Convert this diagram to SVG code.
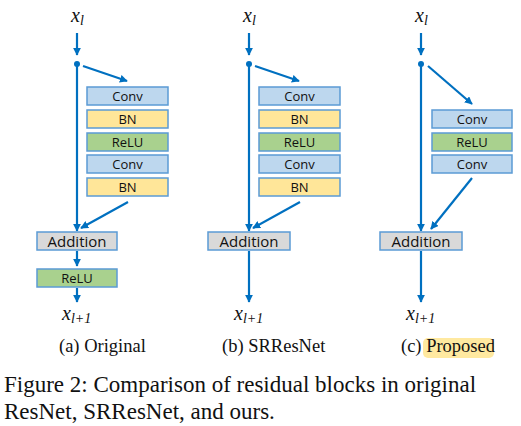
<svg xmlns="http://www.w3.org/2000/svg" width="521" height="426" viewBox="0 0 521 426">
<defs>
<marker id="ah" viewBox="0 0 10 10" refX="9" refY="5" markerWidth="3.6" markerHeight="3.6" orient="auto" markerUnits="strokeWidth">
<path d="M0,0 L10,5 L0,10 Z" fill="#0070C0"/>
</marker>
<style>
.box{stroke:#5B9BD5;stroke-width:1.5}
.conv{fill:#BDD7EE}
.bn{fill:#FFE699}
.relu{fill:#A9D18E}
.add{fill:#D9D9D9}
.lbl{font-family:"Open Sans","Noto Sans",sans-serif;font-size:13px;fill:#111;text-anchor:middle}
.albl{font-family:"Open Sans","Noto Sans",sans-serif;font-size:15px;fill:#111;text-anchor:middle}
.math{font-family:"Liberation Serif",serif;font-style:italic;fill:#111}
.cap{font-family:"Liberation Serif",serif;font-size:18.5px;fill:#111}
.fig{font-family:"Liberation Serif",serif;font-size:23px;fill:#111}
.ln{stroke:#0070C0;stroke-width:2.2;fill:none}
</style>
</defs>
<rect width="521" height="426" fill="#fff"/>

<g id="connectors">
<line class="ln" x1="77" y1="33" x2="77" y2="55" marker-end="url(#ah)"/>
<circle cx="77" cy="64" r="3" fill="#0070C0"/>
<line class="ln" x1="77" y1="64" x2="77" y2="231" marker-end="url(#ah)"/>
<line class="ln" x1="83" y1="66" x2="127" y2="81" marker-end="url(#ah)"/>
<line class="ln" x1="128" y1="202" x2="81" y2="228" marker-end="url(#ah)"/>
<line class="ln" x1="77" y1="251" x2="77" y2="266" marker-end="url(#ah)"/>
<line class="ln" x1="77" y1="288" x2="77" y2="302" marker-end="url(#ah)"/>
<line class="ln" x1="249" y1="33" x2="249" y2="55" marker-end="url(#ah)"/>
<circle cx="249" cy="64" r="3" fill="#0070C0"/>
<line class="ln" x1="249" y1="64" x2="249" y2="231" marker-end="url(#ah)"/>
<line class="ln" x1="255" y1="66" x2="299" y2="81" marker-end="url(#ah)"/>
<line class="ln" x1="300" y1="202" x2="253" y2="228" marker-end="url(#ah)"/>
<line class="ln" x1="249" y1="251" x2="249" y2="302" marker-end="url(#ah)"/>
<line class="ln" x1="421" y1="33" x2="421" y2="55" marker-end="url(#ah)"/>
<circle cx="421" cy="64" r="3" fill="#0070C0"/>
<line class="ln" x1="421" y1="64" x2="421" y2="231" marker-end="url(#ah)"/>
<line class="ln" x1="428" y1="66" x2="472" y2="104" marker-end="url(#ah)"/>
<line class="ln" x1="472" y1="178" x2="431" y2="229" marker-end="url(#ah)"/>
<line class="ln" x1="421" y1="251" x2="421" y2="302" marker-end="url(#ah)"/>
</g>

<g id="a-conv1"><rect class="box conv" x="87" y="87" width="81" height="18"/><text class="lbl" x="127.5" y="101">Conv</text></g>
<g id="a-bn1"><rect class="box bn" x="87" y="110" width="81" height="18"/><text class="lbl" x="127.5" y="124">BN</text></g>
<g id="a-relu1"><rect class="box relu" x="87" y="133" width="81" height="18"/><text class="lbl" x="127.5" y="147">ReLU</text></g>
<g id="a-conv2"><rect class="box conv" x="87" y="155" width="81" height="18"/><text class="lbl" x="127.5" y="169">Conv</text></g>
<g id="a-bn2"><rect class="box bn" x="87" y="178" width="81" height="18"/><text class="lbl" x="127.5" y="192">BN</text></g>
<g id="a-add"><rect class="box add" x="37" y="232" width="80" height="18"/><text class="albl" x="77" y="246.5">Addition</text></g>
<g id="a-relu2"><rect class="box relu" x="37" y="269" width="80" height="18"/><text class="lbl" x="77" y="283">ReLU</text></g>

<g id="b-conv1"><rect class="box conv" x="259" y="87" width="81" height="18"/><text class="lbl" x="299.5" y="101">Conv</text></g>
<g id="b-bn1"><rect class="box bn" x="259" y="110" width="81" height="18"/><text class="lbl" x="299.5" y="124">BN</text></g>
<g id="b-relu1"><rect class="box relu" x="259" y="133" width="81" height="18"/><text class="lbl" x="299.5" y="147">ReLU</text></g>
<g id="b-conv2"><rect class="box conv" x="259" y="155" width="81" height="18"/><text class="lbl" x="299.5" y="169">Conv</text></g>
<g id="b-bn2"><rect class="box bn" x="259" y="178" width="81" height="18"/><text class="lbl" x="299.5" y="192">BN</text></g>
<g id="b-add"><rect class="box add" x="208" y="232" width="82" height="18"/><text class="albl" x="249" y="246.5">Addition</text></g>

<g id="c-conv1"><rect class="box conv" x="432" y="110" width="80" height="18"/><text class="lbl" x="472" y="124">Conv</text></g>
<g id="c-relu"><rect class="box relu" x="432" y="133" width="80" height="18"/><text class="lbl" x="472" y="147">ReLU</text></g>
<g id="c-conv2"><rect class="box conv" x="432" y="155" width="80" height="18"/><text class="lbl" x="472" y="169">Conv</text></g>
<g id="c-add"><rect class="box add" x="380" y="232" width="82" height="18"/><text class="albl" x="421" y="246.5">Addition</text></g>

<g id="labels">
<text class="math" x="71" y="22" font-size="20">x<tspan font-size="14" dy="3">l</tspan></text>
<text class="math" x="243" y="22" font-size="20">x<tspan font-size="14" dy="3">l</tspan></text>
<text class="math" x="415" y="22" font-size="20">x<tspan font-size="14" dy="3">l</tspan></text>
<text class="math" x="62" y="320" font-size="20">x<tspan font-size="14" dy="3">l+1</tspan></text>
<text class="math" x="234" y="320" font-size="20">x<tspan font-size="14" dy="3">l+1</tspan></text>
<text class="math" x="406" y="320" font-size="20">x<tspan font-size="14" dy="3">l+1</tspan></text>
<text class="cap" x="59" y="352">(a) Original</text>
<text class="cap" x="222" y="352">(b) SRResNet</text>
<rect x="423" y="338" width="71" height="20" rx="5" fill="#FFE9A0"/>
<text class="cap" x="401" y="352">(c) Proposed</text>
<text class="fig" x="4" y="392">Figure 2: Comparison of residual blocks in original</text>
<text class="fig" x="4" y="419">ResNet, SRResNet, and ours.</text>
</g>
</svg>
